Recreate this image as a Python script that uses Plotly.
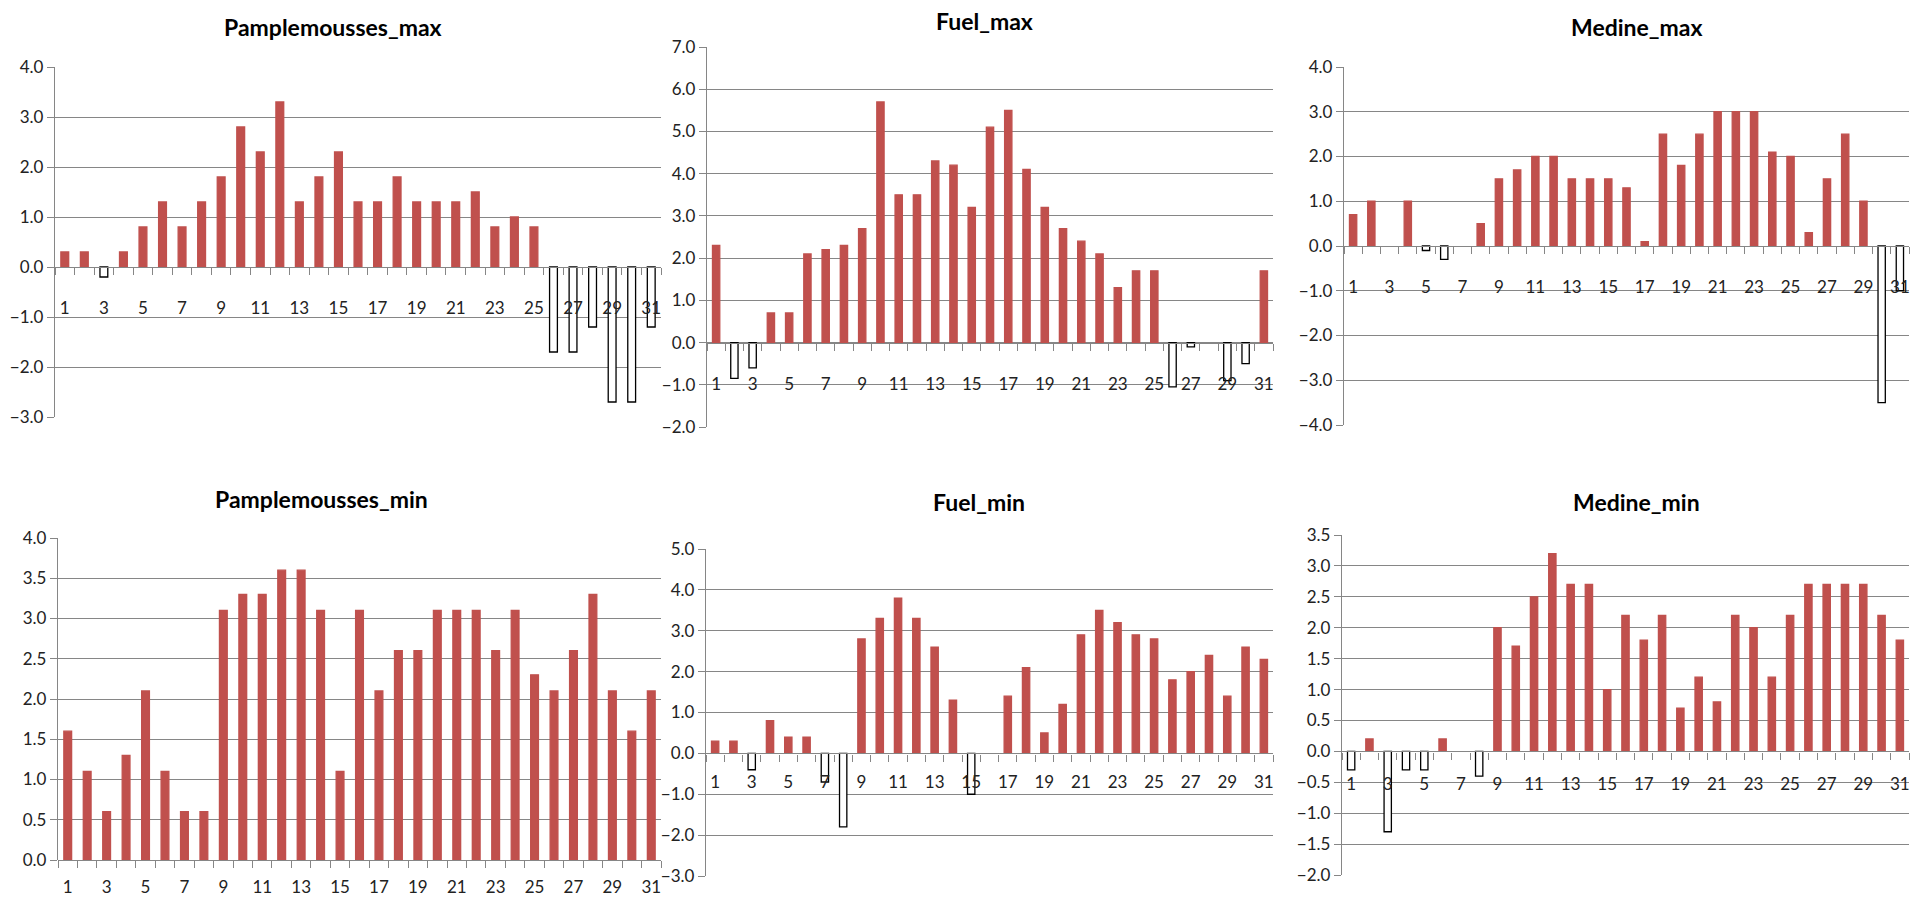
import plotly.graph_objects as go

days = list(range(1, 32))
day_labels = [str(d) for d in days]

pamplemousses_max = [0.3, 0.3, -0.2, 0.3, 0.8, 1.3, 0.8, 1.3, 1.8, 2.8, 2.3, 3.3, 1.3, 1.8, 2.3, 1.3,
                     1.3, 1.8, 1.3, 1.3, 1.3, 1.5, 0.8, 1.0, 0.8, -1.7, -1.7, -1.2, -2.7, -2.7, -1.2]
fuel_max = [2.3, -0.85, -0.6, 0.7, 0.7, 2.1, 2.2, 2.3, 2.7, 5.7, 3.5, 3.5, 4.3, 4.2, 3.2, 5.1,
            5.5, 4.1, 3.2, 2.7, 2.4, 2.1, 1.3, 1.7, 1.7, -1.05, -0.1, 0.0, -0.9, -0.5, 1.7]
medine_max = [0.7, 1.0, 0.0, 1.0, -0.1, -0.3, 0.0, 0.5, 1.5, 1.7, 2.0, 2.0, 1.5, 1.5, 1.5, 1.3,
              0.1, 2.5, 1.8, 2.5, 3.0, 3.0, 3.0, 2.1, 2.0, 0.3, 1.5, 2.5, 1.0, -3.5, -1.0]
pamplemousses_min = [1.6, 1.1, 0.6, 1.3, 2.1, 1.1, 0.6, 0.6, 3.1, 3.3, 3.3, 3.6, 3.6, 3.1, 1.1, 3.1,
                     2.1, 2.6, 2.6, 3.1, 3.1, 3.1, 2.6, 3.1, 2.3, 2.1, 2.6, 3.3, 2.1, 1.6, 2.1]
fuel_min = [0.3, 0.3, -0.4, 0.8, 0.4, 0.4, -0.7, -1.8, 2.8, 3.3, 3.8, 3.3, 2.6, 1.3, -1.0, 0.0,
            1.4, 2.1, 0.5, 1.2, 2.9, 3.5, 3.2, 2.9, 2.8, 1.8, 2.0, 2.4, 1.4, 2.6, 2.3]
medine_min = [-0.3, 0.2, -1.3, -0.3, -0.3, 0.2, 0.0, -0.4, 2.0, 1.7, 2.5, 3.2, 2.7, 2.7, 1.0, 2.2,
              1.8, 2.2, 0.7, 1.2, 0.8, 2.2, 2.0, 1.2, 2.2, 2.7, 2.7, 2.7, 2.7, 2.2, 1.8]

titles = ["Pamplemousses_max", "Fuel_max", "Medine_max",
          "Pamplemousses_min", "Fuel_min", "Medine_min"]
series = [pamplemousses_max, fuel_max, medine_max, pamplemousses_min, fuel_min, medine_min]
y_ranges = [(-3, 4), (-2, 7), (-4, 4), (0, 4), (-3, 5), (-2, 3.5)]
y_dticks = [1, 1, 1, 0.5, 1, 0.5]

# page body has an 8px margin; size the figure so the window shows it without scrollbars
OFF = 8
W, H = 1919 - 2 * OFF, 920 - 2 * OFF
# plot areas in window pixels: (left, right, top, bottom)
boxes = [(55, 661, 67, 417), (707, 1273, 47, 427), (1344, 1909, 67, 425),
         (58, 661, 538, 860), (706, 1273, 549, 876), (1342, 1909, 535, 875)]
title_pos = [(333, 27), (985, 21), (1636, 27), (321, 499), (979, 502), (1636, 502)]
label_standoff = [25, 26, 25, 11, 13, 17]

RED = "#C0504D"
GRID = "#868686"
FONT = "Lato"

fig = go.Figure()
layout = dict(width=W, height=H, margin=dict(l=0, r=0, t=0, b=0, autoexpand=False),
              paper_bgcolor="white", plot_bgcolor="white", showlegend=False,
              annotations=[])

for i, (vals, title, (r0, r1), dt, box, tp, so) in enumerate(
        zip(series, titles, y_ranges, y_dticks, boxes, title_pos, label_standoff)):
    n = "" if i == 0 else str(i + 1)
    l, r, t, b = box
    xd = [(l - OFF) / W, (r - OFF) / W]
    yd = [1 - (b - OFF) / H, 1 - (t - OFF) / H]
    zero_pos = yd[0] + (0 - r0) / (r1 - r0) * (yd[1] - yd[0])
    fills = [RED if v > 0 else "white" for v in vals]
    lines = [RED if v > 0 else ("black" if v < 0 else "rgba(0,0,0,0)") for v in vals]
    fig.add_trace(go.Bar(x=days, y=vals, width=0.4,
                         marker=dict(color=fills, line=dict(color=lines, width=1.3)),
                         xaxis="x" + n, yaxis="y" + n, hoverinfo="x+y"))
    layout["xaxis" + n] = dict(
        domain=xd, anchor="free", position=zero_pos, range=[0.5, 31.5],
        tickmode="array", tickvals=days[::2], ticktext=day_labels[::2],
        ticks="", showgrid=False, zeroline=False,
        showline=True, linecolor=GRID, linewidth=1.3,
        ticklabelstandoff=so,
        tickfont=dict(family=FONT, size=17, color="#222"),
        minor=dict(ticks="outside", tick0=0.5, dtick=1, ticklen=7,
                   tickcolor=GRID, tickwidth=1.3, showgrid=False),
    )
    layout["yaxis" + n] = dict(
        domain=yd, anchor="x" + n, range=[r0, r1], dtick=dt, tick0=0,
        tickformat=".1f", showgrid=True, gridcolor=GRID, gridwidth=1.4,
        zeroline=False, showline=True, linecolor=GRID, linewidth=1.3,
        ticks="outside", ticklen=7, tickcolor=GRID, tickwidth=1.3,
        tickfont=dict(family=FONT, size=17, color="#222"),
    )
    layout["annotations"].append(dict(
        text="<b>" + title + "</b>", x=(tp[0] - OFF) / W, y=1 - (tp[1] - OFF) / H,
        xref="paper", yref="paper", showarrow=False,
        xanchor="center", yanchor="middle",
        font=dict(family=FONT, size=23, color="black")))

fig.update_layout(**layout)
fig.write_html("out.html")
